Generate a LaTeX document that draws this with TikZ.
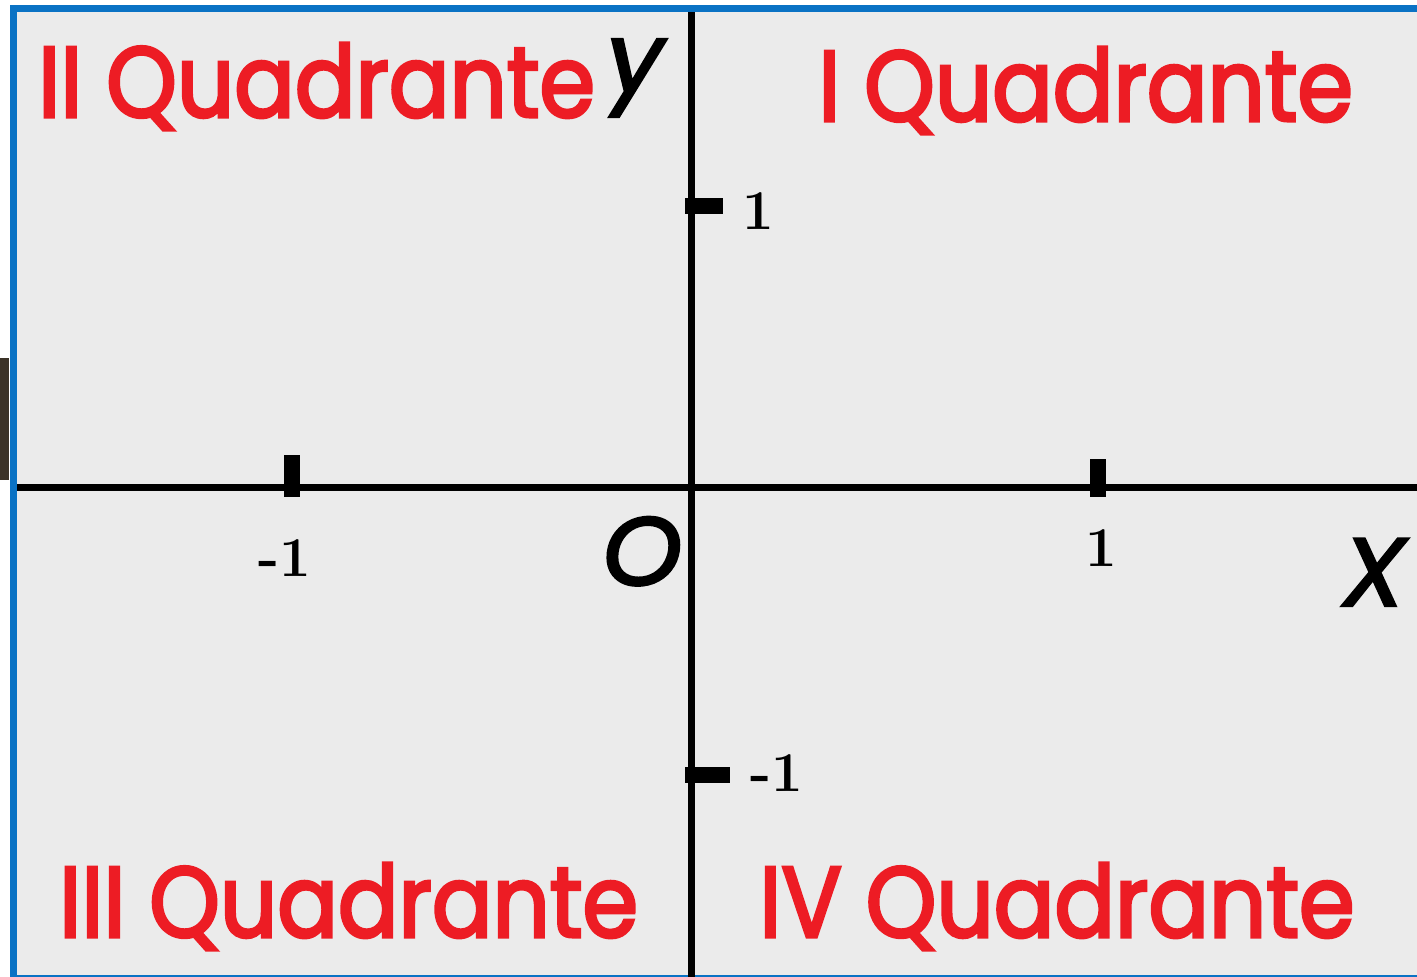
\documentclass[tikz,border=0pt]{standalone}
\usepackage{fontspec}
\usetikzlibrary{positioning}
\newfontfamily\quadfont{Poppins}[FakeStretch=0.895,FakeBold=3]
\newfontfamily\varfont{Poppins}[FakeStretch=1.05,FakeBold=2.5]
\definecolor{quadred}{RGB}{237,28,36}
\definecolor{paneblue}{RGB}{10,114,196}
\definecolor{panegray}{RGB}{235,235,235}
\definecolor{edgedark}{RGB}{59,50,40}
\tikzset{
  axis/.style={line width=0.14cm},
  tickmark/.style={line width=0.32cm},
  quad/.style={anchor=base west,inner sep=0pt,text=quadred,font=\quadfont\fontsize{57}{60}\selectfont},
  lbl/.style={inner sep=0pt,font=\fontsize{32}{34}\selectfont\bfseries},
  var/.style={anchor=base west,inner sep=0pt,font=\varfont\itshape\fontsize{55}{58}\selectfont}
}
\begin{document}
\begin{tikzpicture}[x=0.02cm,y=-0.02cm]
\useasboundingbox (0,0) rectangle (1417,977);
\fill[white] (0,0) rectangle (1417,977);
\fill[panegray] (10,5) rectangle (1417,977);
\fill[edgedark] (0,358) rectangle (9,480);
\draw[paneblue,line width=0.14cm] (13.5,977) -- (13.5,8.5) -- (1417,8.5);
\draw[paneblue,line width=0.06cm] (10,976) -- (1417,976);
% axes
\coordinate (xl) at (17,487.5);
\coordinate (xr) at (1417,487.5);
\coordinate (yt) at (691.5,12);
\coordinate (yb) at (691.5,977);
\draw[axis] (xl) -- (xr);
\draw[axis] (yt) -- (yb);
% ticks
\draw[tickmark] (292,455) -- (292,497);
\draw[tickmark] (1098,459) -- (1098,497);
\draw[tickmark] (685,206) -- (723,206);
\draw[tickmark] (685,775) -- (730,775);
\node[lbl] (xm) at (285,558) {-1};
\node[lbl] (xp) at (1101,548) {1};
\node[lbl] (yp) at (758,211) {1};
\node[lbl] (ym) at (777,773) {-1};
% axis names
\node[var] (o) at (602,585) {O};
\node[var] (x) at (1342,606) {X};
\node[var] (y) at (606,92) {y};
% quadrants
\node[quad] (q2) at (38,117) {II Quadrante};
\node[quad] (q1) at (818,121) {I Quadrante};
\node[quad] (q3) at (59,937) {III Quadrante};
\node[quad] (q4) at (759,937) {IV Quadrante};
\end{tikzpicture}
\end{document}
